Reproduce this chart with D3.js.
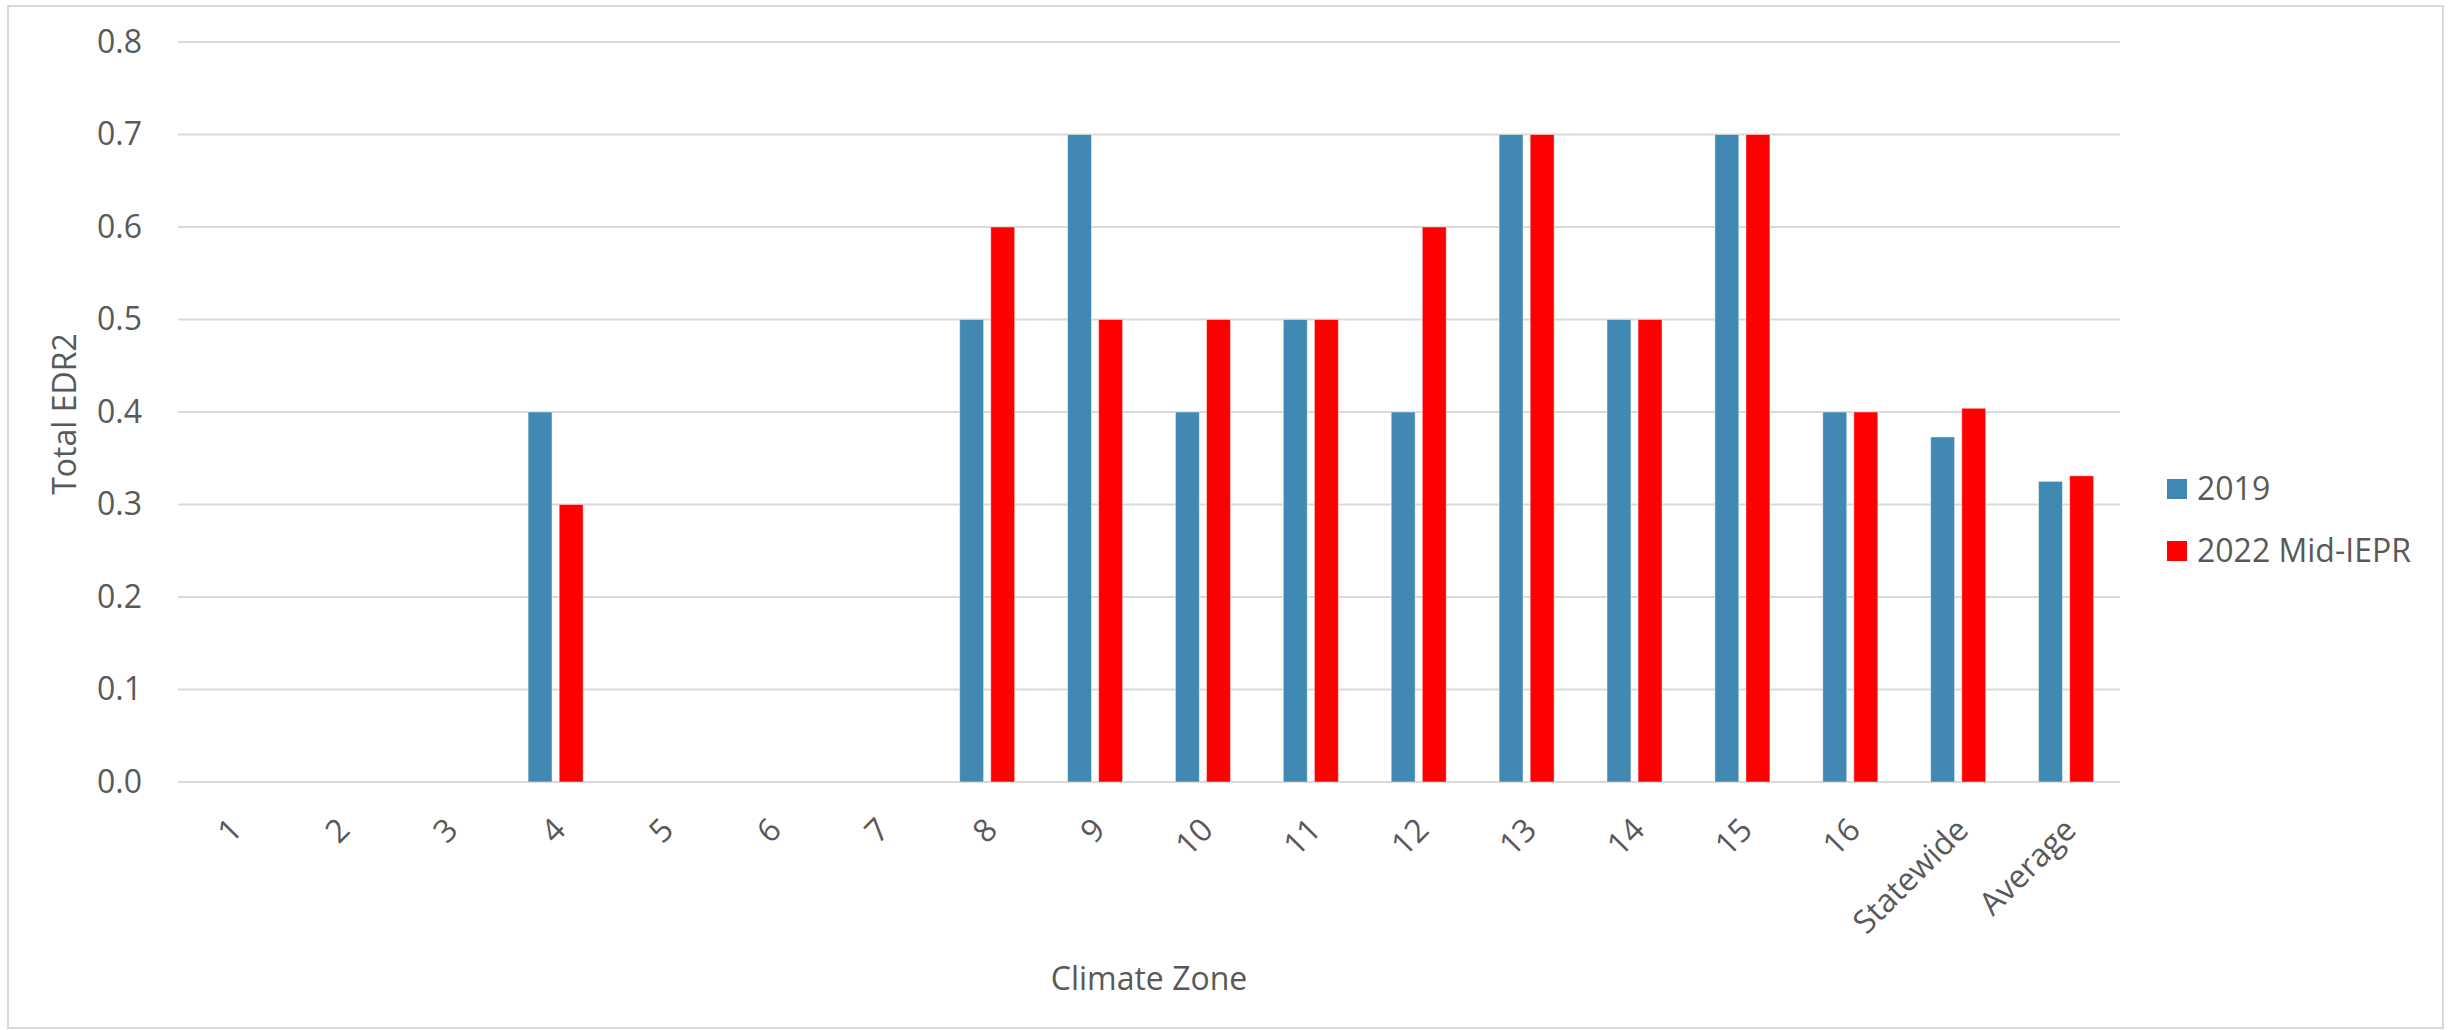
<!DOCTYPE html>
<html>
<head>
<meta charset="utf-8">
<script src="https://cdn.jsdelivr.net/npm/d3@7"></script>
<style>
    body { margin: 0; background: #fff; }
    svg text { font-family: "Open Sans", "Noto Sans", sans-serif; fill: #595959; }
</style>
</head>
<body>
<svg id="chart" width="2450" height="1030"></svg>
<script>
// chart data
const zones = ["1", "2", "3", "4", "5", "6", "7", "8", "9", "10", "11", "12",
    "13", "14", "15", "16", "Statewide", "Average"];
const seriesNames = ["2019", "2022 Mid-IEPR"];
const values2019 = [0, 0, 0, 0.4, 0, 0, 0, 0.5, 0.7, 0.4, 0.5, 0.4, 0.7, 0.5, 0.7, 0.4, 0.373, 0.325];
const values2022 = [0, 0, 0, 0.3, 0, 0, 0, 0.6, 0.5, 0.5, 0.5, 0.6, 0.7, 0.5, 0.7, 0.4, 0.404, 0.331];
const yTicks = [0, 0.1, 0.2, 0.3, 0.4, 0.5, 0.6, 0.7, 0.8];
const colors = ["#4189B3", "#FF0000"];

const svg = d3.select("#chart");
const W = 2450, H = 1030;
const margin = {left: 178, right: 330, top: 42, bottom: 248};
const fontSize = "32px";

// outer chart border
svg.append("rect")
    .attr("x", 8).attr("y", 6)
    .attr("width", W - 15).attr("height", H - 8)
    .attr("fill", "none")
    .attr("stroke", "#d9d9d9")
    .attr("stroke-width", 2);

const x0 = d3.scaleBand()
    .domain(zones)
    .range([margin.left, W - margin.right]);

const groupWidth = x0.bandwidth() * 0.51;
const x1 = d3.scaleBand()
    .domain(seriesNames)
    .range([0, groupWidth])
    .paddingInner(0.23);

const y = d3.scaleLinear()
    .domain([0, 0.8])
    .range([H - margin.bottom, margin.top]);

// gridlines
svg.append("g")
    .selectAll("line")
    .data(yTicks)
    .enter().append("line")
    .attr("x1", margin.left)
    .attr("x2", W - margin.right)
    .attr("y1", d => y(d))
    .attr("y2", d => y(d))
    .attr("stroke", "#d9d9d9")
    .attr("stroke-width", 2);

// y axis labels
const yAxis = d3.axisLeft(y)
    .tickValues(yTicks)
    .tickFormat(d3.format(".1f"))
    .tickSize(0)
    .tickPadding(36);
const yG = svg.append("g")
    .attr("transform", `translate(${margin.left},0)`)
    .call(yAxis);
yG.select(".domain").remove();
yG.selectAll("text")
    .style("font-size", fontSize)
    .attr("fill", "#595959");

// bars
const rows = zones.map((z, i) => ({zone: z, vals: [values2019[i], values2022[i]]}));
const groups = svg.append("g")
    .selectAll("g")
    .data(rows)
    .enter().append("g")
    .attr("transform", d => `translate(${x0(d.zone) + (x0.bandwidth() - groupWidth) / 2},0)`);

groups.selectAll("rect")
    .data(d => d.vals.map((v, k) => ({name: seriesNames[k], value: v, k: k})))
    .enter().append("rect")
    .filter(d => d.value > 0)
    .attr("x", d => x1(d.name))
    .attr("y", d => y(d.value))
    .attr("width", x1.bandwidth())
    .attr("height", d => y(0) - y(d.value))
    .attr("fill", d => colors[d.k])
    .attr("stroke", "#ffffff")
    .attr("stroke-opacity", 0.45)
    .attr("stroke-width", 1);

// x axis labels, rotated
const xAxis = d3.axisBottom(x0).tickSize(0).tickPadding(0);
const xG = svg.append("g")
    .attr("transform", `translate(0,${y(0)})`)
    .call(xAxis);
xG.select(".domain").remove();
xG.selectAll("text")
    .style("font-size", fontSize)
    .attr("fill", "#595959")
    .attr("text-anchor", "end")
    .attr("dy", "0.35em")
    .attr("transform", "translate(4,42) rotate(-45)");

// axis titles
svg.append("text")
    .attr("transform", "translate(76,414) rotate(-90)")
    .attr("text-anchor", "middle")
    .style("font-size", fontSize)
    .text("Total EDR2");

svg.append("text")
    .attr("x", (margin.left + W - margin.right) / 2)
    .attr("y", 990)
    .attr("text-anchor", "middle")
    .style("font-size", fontSize)
    .text("Climate Zone");

// legend
const legend = svg.append("g")
    .selectAll("g")
    .data(seriesNames)
    .enter().append("g")
    .attr("transform", (d, i) => `translate(2167,${479 + i * 62})`);
legend.append("rect")
    .attr("width", 20).attr("height", 20)
    .attr("fill", (d, i) => colors[i]);
legend.append("text")
    .attr("x", 30).attr("y", 10)
    .attr("dy", "0.35em")
    .style("font-size", fontSize)
    .text(d => d);
</script>
</body>
</html>
